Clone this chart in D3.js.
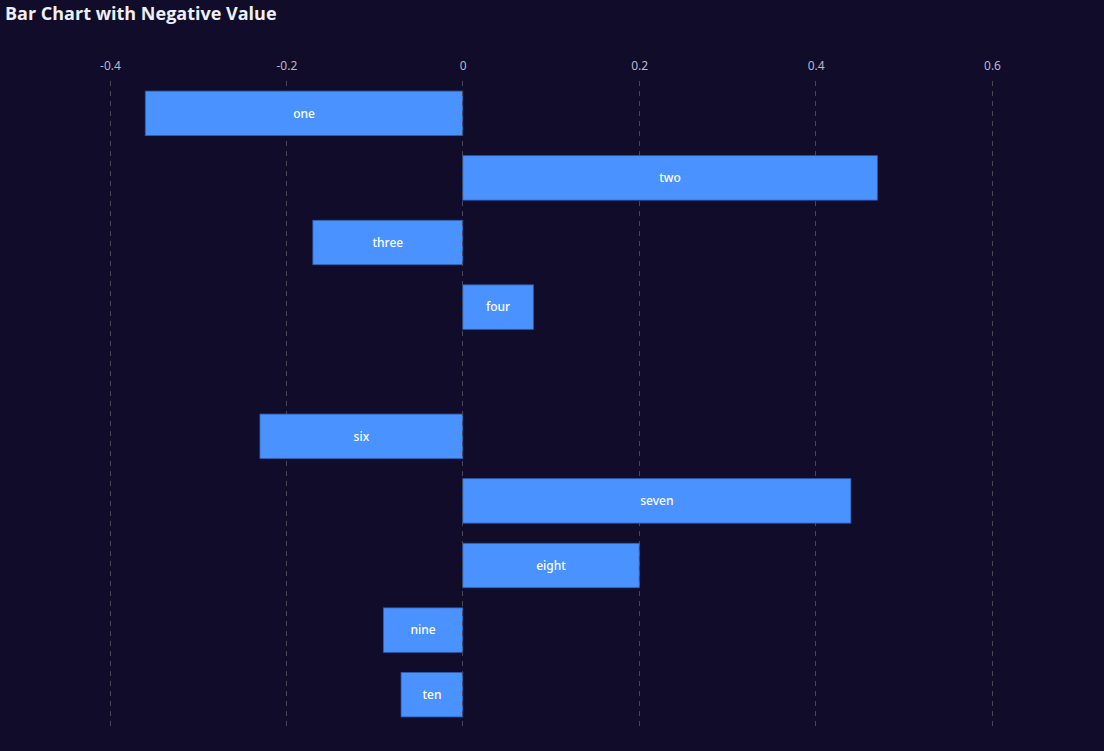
<!DOCTYPE html>
<html><head><meta charset="utf-8">
<script src="https://cdn.jsdelivr.net/npm/d3@7"></script>
<style>
html,body{margin:0;padding:0;background:#100c2a;}
svg{display:block;}
</style></head>
<body>
<svg id="chart" width="1104" height="751"></svg>
<script>
const categories = ["one","two","three","four","five","six","seven","eight","nine","ten"];
const values = [-0.36, 0.47, -0.17, 0.08, null, -0.23, 0.44, 0.2, -0.09, -0.07];
const xTicks = [-0.4, -0.2, 0, 0.2, 0.4, 0.6];
const titleText = "Bar Chart with Negative Value";

(function(){
const W = 1104, H = 751;
const svg = d3.select("#chart");
svg.append("rect").attr("width", W).attr("height", H).attr("fill", "#100c2a");

const gLeft = 110, gRight = 992, gTop = 81, gBottom = 727;
const x = d3.scaleLinear().domain([-0.4, 0.6]).range([gLeft, gRight]);
const y = d3.scaleBand().domain(categories).range([gTop, gBottom]).paddingInner(0.312).paddingOuter(0.156);

// grid
svg.append("g").selectAll("line").data(xTicks).join("line")
  .attr("x1", d => x(d)).attr("x2", d => x(d))
  .attr("y1", gTop).attr("y2", gBottom)
  .attr("stroke", "#484753").attr("stroke-width", 1)
  .attr("stroke-dasharray", "5,5")
  .attr("shape-rendering", "crispEdges");

// top axis labels
const axis = d3.axisTop(x).tickValues(xTicks).tickSize(0).tickPadding(0)
  .tickFormat(d => d === 0 ? "0" : d3.format(".1f")(d).replace("−", "-"));
const ag = svg.append("g").attr("transform", `translate(0,${gTop - 11})`).call(axis);
ag.select(".domain").remove();
ag.selectAll("text").attr("fill", "#b9b8ce").attr("font-size", 12)
  .attr("font-family", "'Noto Sans', sans-serif");

const data = categories.map((c, i) => ({c, v: values[i]})).filter(d => d.v !== null);

// bars
svg.append("g").selectAll("rect").data(data).join("rect")
  .attr("x", d => x(Math.min(0, d.v)))
  .attr("width", d => Math.abs(x(d.v) - x(0)))
  .attr("y", d => y(d.c))
  .attr("height", y.bandwidth())
  .attr("fill", "#4992ff")
  .attr("stroke", "#2f5fae").attr("stroke-width", 0.8);

// zero line over bars
svg.append("line")
  .attr("x1", x(0)).attr("x2", x(0)).attr("y1", gTop).attr("y2", gBottom)
  .attr("stroke", "#484753").attr("stroke-dasharray", "5,5")
  .attr("shape-rendering", "crispEdges");

// labels
svg.append("g").selectAll("text").data(data).join("text")
  .attr("x", d => (x(d.v) + x(0)) / 2)
  .attr("y", d => y(d.c) + y.bandwidth() / 2)
  .attr("dy", "0.35em")
  .attr("text-anchor", "middle")
  .attr("fill", "#ffffff")
  .attr("font-size", 12)
  .attr("font-weight", 500)
  .attr("font-family", "'Noto Sans', sans-serif")
  .text(d => d.c);

// title
svg.append("text").attr("x", 5).attr("y", 20)
  .attr("fill", "#eeeef5").attr("font-size", 18).attr("font-weight", "bold")
  .attr("font-family", "'Open Sans', 'Noto Sans', sans-serif")
  .text(titleText);
})();
</script>
</body></html>
